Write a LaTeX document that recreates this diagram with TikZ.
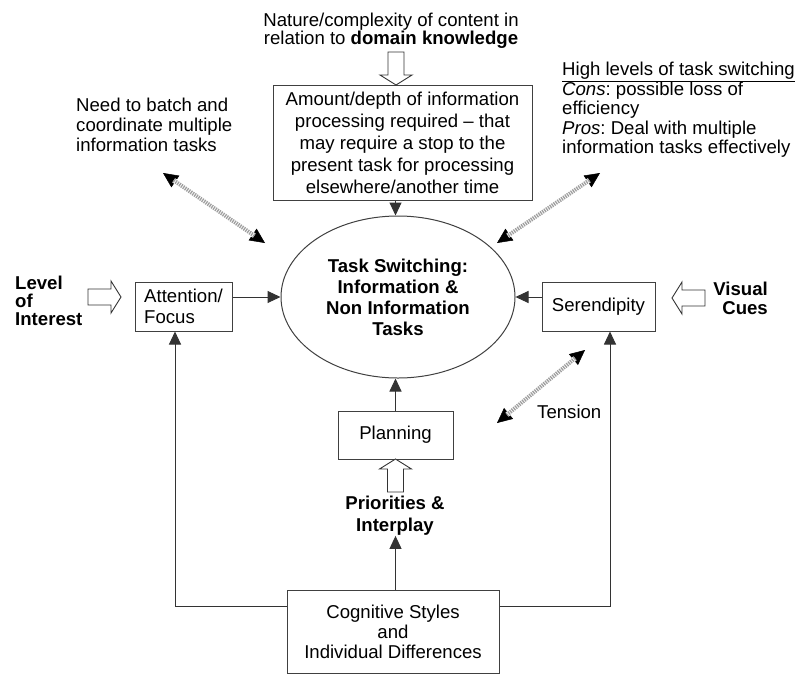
\documentclass[tikz,border=0pt]{standalone}
\usepackage{fontspec}
\setmainfont{Liberation Sans}
\usetikzlibrary{arrows.meta,shapes.geometric,calc}
\frenchspacing

% hollow block arrow: tail at (#1,#2), pointing along angle #3
\newcommand\hollowarrow[3]{%
  \draw[blockline, shift={(#1,#2)}, rotate=#3]
    (0,-8) -- (23,-8) -- (23,-16) -- (33,0) -- (23,16) -- (23,8) -- (0,8) -- cycle;}

\begin{document}
\begin{tikzpicture}[x=1pt,y=-1pt,
  every node/.style={inner sep=0pt, font=\fontsize{18.6}{21}\selectfont},
  box/.style={draw=black!75, line width=1pt, fill=white},
  blockline/.style={draw=black!80, line width=0.9pt, fill=white},
  arr/.style={draw=black!80, line width=1pt, -{Triangle[length=13pt,width=12pt]}},
  stripetips/.style={line width=0.5pt, {Triangle[length=15pt,width=14pt]}-{Triangle[length=15pt,width=14pt]}},
  stripecover/.style={draw=white, line width=5pt, shorten <=13pt, shorten >=13pt},
  stripe/.style={draw=gray!75, line width=4pt, dash pattern=on 1.3pt off 1pt, shorten <=13pt, shorten >=13pt},
]
\useasboundingbox (0,0) rectangle (799,688);

% ---- text labels ----
\node[align=center, font=\fontsize{18.6}{18}\selectfont] (nature) at (391,31)
  {Nature/complexity of content in\\relation to \textbf{domain knowledge}};
\node[align=left, anchor=west, font=\fontsize{18.6}{20}\selectfont] (batch) at (76,125)
  {Need to batch and\\coordinate multiple\\information tasks};
\node[align=left, anchor=west, font=\fontsize{18.6}{19.5}\selectfont] (high) at (562,110)
  {\underline{High levels of task switching}\\\textit{Cons}: possible loss of\\efficiency\\\textit{Pros}: Deal with multiple\\information tasks effectively};
\node[align=left, anchor=west, font=\bfseries\fontsize{18.6}{18}\selectfont] (interest) at (15,301)
  {Level\\of\\Interest};
\node[align=right, anchor=east, font=\bfseries\fontsize{18.6}{19}\selectfont] (visual) at (768,298)
  {Visual\\Cues};
\node[align=center, font=\bfseries\fontsize{18.6}{22}\selectfont] (priorities) at (395,516)
  {Priorities \&\\Interplay};
\node[anchor=west] (tension) at (537,412) {Tension};

% ---- boxes ----
\node[box, align=center, minimum width=259pt, minimum height=115pt, font=\fontsize{18.6}{22}\selectfont] (info) at (402.5,142.5)
  {Amount/depth of information\\processing required -- that\\may require a stop to the\\present task for processing\\elsewhere/another time};
\node[box, ellipse, minimum width=234pt, minimum height=162pt, align=center, font=\bfseries\fontsize{18.6}{21}\selectfont] (task) at (398,297)
  {Task Switching:\\Information \&\\Non Information\\Tasks};
\node[box, minimum width=97pt, minimum height=49pt, align=left] (attention) at (183.5,306.5)
  {Attention/\\Focus};
\node[box, minimum width=113pt, minimum height=49pt] (serendipity) at (598.5,306.5) {Serendipity};
\node[box, minimum width=115pt, minimum height=48pt] (planning) at (395.5,435) {Planning};
\node[box, minimum width=212pt, minimum height=83pt, align=center, font=\fontsize{18.6}{20}\selectfont] (cognitive) at (393,631.5)
  {Cognitive Styles\\and\\Individual Differences};

% ---- block arrows ----
\hollowarrow{88}{297}{0}
\hollowarrow{705}{298}{180}
\hollowarrow{396}{52}{270}
\hollowarrow{395.5}{492}{90}

% ---- solid connectors ----
\coordinate (lc) at (175,606);
\coordinate (rc) at (610,606);
\draw[arr] (info.south -| planning) -- (task.north -| planning);
\draw[arr] (planning.north) -- (task.south -| planning);
\draw[arr] (attention.east |- task) -- (task.west);
\draw[arr] (serendipity.west |- task) -- (task.east);
\draw[arr] (cognitive.north -| planning) -- (priorities.south -| planning);
\draw[arr] (cognitive.west |- lc) -| (attention.south -| lc);
\draw[arr] (cognitive.east |- rc) -| (serendipity.south -| rc);

% ---- striped double arrows ----
\coordinate (d1a) at (163,173);
\coordinate (d1b) at (265,243);
\coordinate (d2a) at (600,173);
\coordinate (d2b) at (497,243);
\coordinate (d3a) at (585,350);
\coordinate (d3b) at (497,423);
\foreach \a/\b in {d1a/d1b, d2a/d2b, d3a/d3b}{
  \draw[stripetips] (\a) -- (\b);
  \draw[stripecover] (\a) -- (\b);
  \draw[stripe] (\a) -- (\b);
}
\end{tikzpicture}
\end{document}
